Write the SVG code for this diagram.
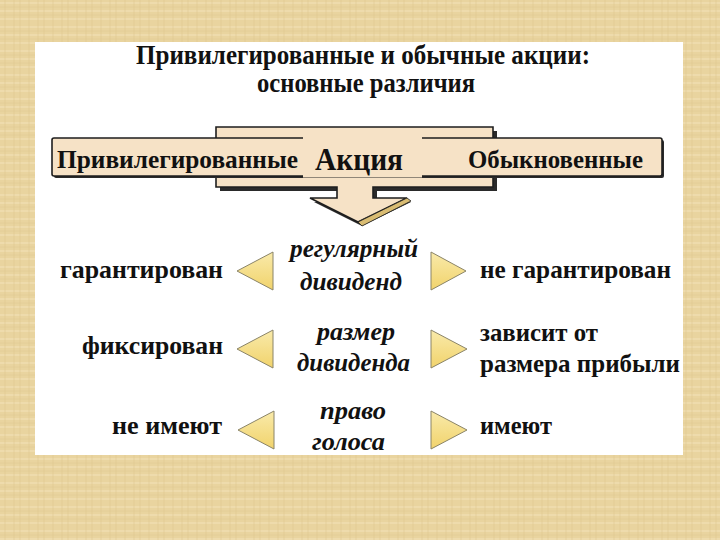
<svg xmlns="http://www.w3.org/2000/svg" width="720" height="540" viewBox="0 0 720 540">
  <defs>
    <pattern id="tex" width="24" height="24" patternUnits="userSpaceOnUse">
      <rect width="24" height="24" fill="#E9D49F"/>
      <path d="M0 3H24M0 11H24M0 19H24" stroke="#F1E0B4" stroke-width="1.5" opacity="0.8"/>
      <path d="M5 0V24M14 0V24M20 0V24" stroke="#DCC38B" stroke-width="1" opacity="0.5"/>
      <path d="M0 7H24M0 15H24" stroke="#E0C990" stroke-width="1" opacity="0.6"/>
    </pattern>
    <linearGradient id="tri" x1="0" y1="0" x2="0" y2="1">
      <stop offset="0" stop-color="#F9EAAA"/>
      <stop offset="1" stop-color="#F1D36C"/>
    </linearGradient>
  </defs>
  <style>
    .b { font-family: "Liberation Serif", "Times New Roman", serif; font-weight: bold; fill: #111; }
    .i { font-family: "Liberation Serif", "Times New Roman", serif; font-weight: bold; font-style: italic; fill: #111; }
    .t { font-size: 28px; }
    .n { font-size: 26px; }
    .bn { font-size: 25px; }
    .big { font-size: 31px; }
    .box { fill: #F6E2C6; stroke: #1e1e1e; stroke-width: 1.6; stroke-linejoin: miter; }
    .shadow { fill: #2a2a2a; }
    .tri { fill: url(#tri); stroke: #8a8468; stroke-width: 1; stroke-linejoin: miter; }
  </style>

  <rect x="0" y="0" width="720" height="540" fill="url(#tex)"/>
  <rect x="35" y="42" width="648" height="413" fill="#FFFFFF"/>

  <g id="title">
    <text class="b t" x="363" y="64" text-anchor="middle" textLength="454" lengthAdjust="spacingAndGlyphs">Привилегированные и обычные акции:</text>
    <text class="b t" x="366" y="92" text-anchor="middle" textLength="218" lengthAdjust="spacingAndGlyphs">основные различия</text>
  </g>

  <g id="banner">
    <polygon class="shadow" points="220,131 497,131 497,191 377,191 377,202 411,202 362,226 314,202 341,202 341,191 220,191"/>
    <polygon class="box" points="216,127 493,127 493,187 373,187 373,198 407,198 358,222 310,198 337,198 337,187 216,187"/>
    <polygon points="407,198 411,201 362,226 358,222" fill="#D9BC72" stroke="#1e1e1e" stroke-width="0.8"/>
    <rect x="54" y="140" width="610" height="38" rx="2" class="shadow"/>
    <rect x="52" y="138" width="610" height="38" rx="2" class="box"/>
    <rect x="303" y="136.5" width="119" height="41" fill="#F6E2C6"/>
    <text class="b bn" x="57" y="168" textLength="241" lengthAdjust="spacingAndGlyphs">Привилегированные</text>
    <text class="b big" x="315" y="170" textLength="88" lengthAdjust="spacingAndGlyphs">Акция</text>
    <text class="b bn" x="468" y="168" textLength="175" lengthAdjust="spacingAndGlyphs">Обыкновенные</text>
  </g>

  <g id="row1">
    <text class="b n" x="60" y="278" textLength="163" lengthAdjust="spacingAndGlyphs">гарантирован</text>
    <text class="i n" x="290" y="257" textLength="128" lengthAdjust="spacingAndGlyphs">регулярный</text>
    <text class="i n" x="300" y="290" textLength="102" lengthAdjust="spacingAndGlyphs">дивиденд</text>
    <text class="b n" x="480" y="278" textLength="191" lengthAdjust="spacingAndGlyphs">не гарантирован</text>
  </g>
  <g id="row2">
    <text class="b n" x="82" y="354" textLength="141" lengthAdjust="spacingAndGlyphs">фиксирован</text>
    <text class="i n" x="317" y="340" textLength="78" lengthAdjust="spacingAndGlyphs">размер</text>
    <text class="i n" x="297" y="371" textLength="113" lengthAdjust="spacingAndGlyphs">дивиденда</text>
    <text class="b n" x="480" y="341" textLength="118" lengthAdjust="spacingAndGlyphs">зависит от</text>
    <text class="b n" x="480" y="372" textLength="200" lengthAdjust="spacingAndGlyphs">размера прибыли</text>
  </g>
  <g id="row3">
    <text class="b n" x="112" y="434" textLength="110" lengthAdjust="spacingAndGlyphs">не имеют</text>
    <text class="i n" x="320" y="419" textLength="66" lengthAdjust="spacingAndGlyphs">право</text>
    <text class="i n" x="312" y="450" textLength="73" lengthAdjust="spacingAndGlyphs">голоса</text>
    <text class="b n" x="480" y="434" textLength="72" lengthAdjust="spacingAndGlyphs">имеют</text>
  </g>

  <g id="connectors">
    <polygon class="tri" points="237,271 273,252 273,290"/>
    <polygon class="tri" points="466,271 431,252 431,290"/>
    <polygon class="tri" points="237,349 273,330 273,368"/>
    <polygon class="tri" points="467,349 431,330 431,368"/>
    <polygon class="tri" points="238,430 274,411 274,449"/>
    <polygon class="tri" points="467,430 431,411 431,449"/>
  </g>
</svg>
